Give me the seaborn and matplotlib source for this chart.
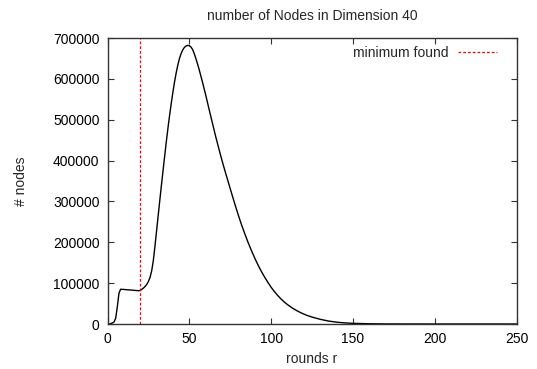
import pandas as pd
import matplotlib
matplotlib.use('Agg')
import matplotlib.pyplot as plt
import seaborn as sns

# --- data ---
rounds = [0, 1, 2, 3, 4, 5, 6, 7, 8, 10, 13, 16, 19, 20, 21, 22, 23, 24, 25, 26,
          27, 28, 29, 30, 31, 32, 33, 34, 35, 36, 37, 38, 39, 40, 41, 42, 43, 44,
          45, 46, 47, 48, 49, 50, 51, 52, 53, 54, 55, 56, 57, 58, 60, 62, 64, 66,
          68, 70, 72, 74, 76, 78, 80, 82, 84, 86, 88, 90, 92, 94, 96, 98, 100,
          102, 104, 106, 108, 110, 113, 116, 119, 122, 125, 130, 135, 140, 145,
          150, 160, 170, 185, 200, 250]
nodes_k = [0, 0.3, 1, 2.5, 5, 14, 42, 75, 85, 84.5, 83.5, 82.5, 81.5, 82, 85,
           88, 92, 97, 104, 114, 130, 155, 190, 228, 266, 304, 341, 377, 413,
           448, 481, 512, 541, 568, 593, 615, 634, 650, 662, 671, 677, 680.5,
           682, 681, 678, 672, 662, 650, 637, 623, 608, 593, 561, 527, 494, 461,
           430, 400, 372, 345, 318, 291.5, 266, 242, 220, 199, 179.5, 161.5,
           144.5, 129, 115, 102, 90, 79.5, 70, 61.5, 54, 47.5, 39, 32, 26, 21,
           17, 11.5, 7.3, 4.5, 2.7, 1.6, 0.6, 0.2, 0.05, 0.01, 0]
minimum_round = 20

x_ticks = [0, 50, 100, 150, 200, 250]
y_ticks = [0, 100000, 200000, 300000, 400000, 500000, 600000, 700000]

sns.set_theme(style="ticks")
plt.rcParams['font.family'] = ['Liberation Sans', 'DejaVu Sans']

df = pd.DataFrame({'r': rounds, 'nodes': [v * 1000 for v in nodes_k]})

fig = plt.figure(figsize=(5.37, 3.69), dpi=100)
ax = fig.add_axes([107.5 / 537, 1 - 324 / 369, 409 / 537, (324 - 38) / 369])

sns.lineplot(data=df, x='r', y='nodes', ax=ax, color='black', linewidth=1.0)
ax.axvline(minimum_round, color='#ff0000', linestyle=(0, (2.2, 1.6)),
           linewidth=0.9, label='minimum found')

ax.set_xlim(0, 250)
ax.set_ylim(0, 700000)
ax.set_xticks(x_ticks)
ax.set_yticks(y_ticks)
ax.set_xticklabels([str(t) for t in x_ticks])
ax.set_yticklabels([str(t) for t in y_ticks])
ax.tick_params(direction='in', length=4, width=0.8, top=True, right=True,
               labelsize=10, colors='#333333', labelcolor='black')
ax.tick_params(axis='y', pad=5.8)
ax.tick_params(axis='x', pad=6)
for s in ax.spines.values():
    s.set_linewidth(1.0)
    s.set_color('#333333')

ax.set_title('number of Nodes in Dimension 40', fontsize=10, pad=13)
ax.set_xlabel('rounds r', fontsize=10, labelpad=4.3)
ax.set_ylabel('# nodes', fontsize=10, labelpad=18)

ax.legend(loc='upper right', frameon=False, markerfirst=False, fontsize=10,
          handlelength=2.8, handletextpad=0.72, borderaxespad=0,
          bbox_to_anchor=(0.966, 0.993))

fig.savefig('out.png', dpi=100)
plt.close(fig)
